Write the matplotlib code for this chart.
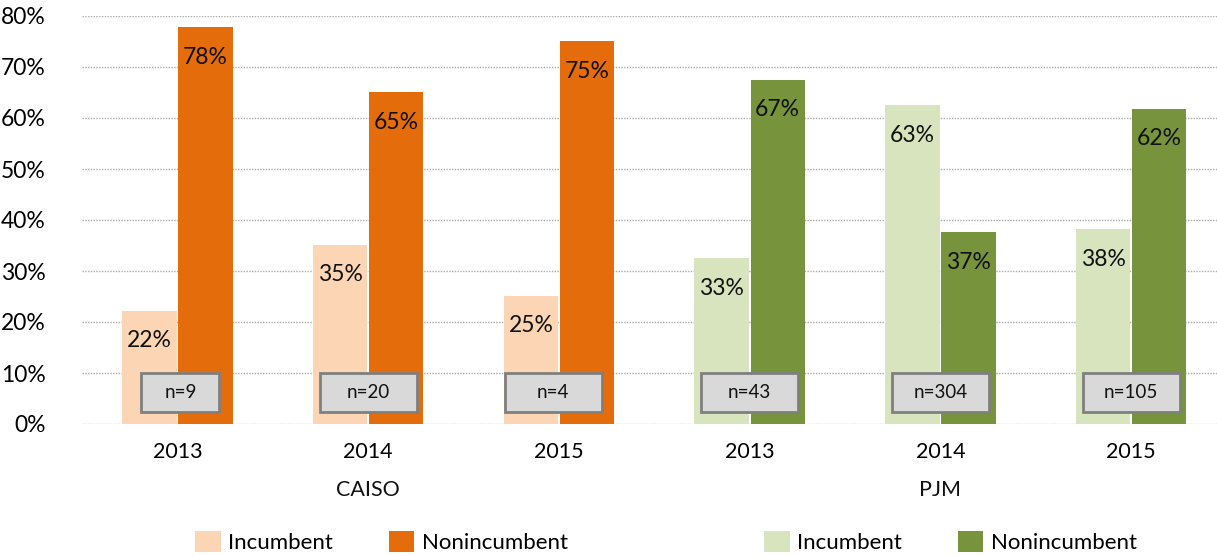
import matplotlib
matplotlib.use("Agg")
import matplotlib.pyplot as plt
from matplotlib.patches import Rectangle
import numpy as np

years = ["2013", "2014", "2015", "2013", "2014", "2015"]
markets = ["CAISO", "PJM"]
incumbent = [22.2, 35.1, 25.1, 32.5, 62.5, 38.2]
nonincumbent = [77.8, 65.0, 75.0, 67.5, 37.6, 61.8]
inc_labels = ["22%", "35%", "25%", "33%", "63%", "38%"]
non_labels = ["78%", "65%", "75%", "67%", "37%", "62%"]
n_labels = ["n=9", "n=20", "n=4", "n=43", "n=304", "n=105"]
yticks = [0, 10, 20, 30, 40, 50, 60, 70, 80]

inc_colors = ["#FCD5B5"] * 3 + ["#D7E4BD"] * 3
non_colors = ["#E46C0A"] * 3 + ["#77933C"] * 3

plt.rcParams['font.family'] = ['Lato', 'DejaVu Sans']

W, H = 1217, 556
fig = plt.figure(figsize=(W / 100, H / 100), dpi=100)
ax = fig.add_axes([82 / W, (H - 424) / H, (W - 82) / W, (424 - 16) / H])

x = np.arange(len(years))
bw = 0.285
off = 0.147
b1 = ax.bar(x - off, incumbent, bw, color=inc_colors, zorder=2)
b2 = ax.bar(x + off, nonincumbent, bw, color=non_colors, zorder=2)

ax.set_xlim(-0.5, 5.45)
ax.set_ylim(0, 80)
ax.set_yticks(yticks)
ax.set_yticklabels([f"{v}%" for v in yticks], fontsize=16.5)
ax.set_xticks(x)
ax.set_xticklabels(years, fontsize=15.5)
ax.tick_params(length=0)
ax.tick_params(axis='y', pad=26)
ax.tick_params(axis='x', pad=13)
for s in ax.spines.values():
    s.set_visible(False)
ax.yaxis.grid(True, color="#ABABAB", linestyle=(0, (1.0, 1.0)), linewidth=1.0, zorder=0)
ax.set_axisbelow(True)

# value labels: ~30 px below bar top
dy = 30 * 80 / 408
for i in range(len(years)):
    ax.text(x[i] - off, incumbent[i] - dy, inc_labels[i], ha='center', va='center',
            fontsize=16.5, color='#111111', zorder=4)
    ax.text(x[i] + off, nonincumbent[i] - dy, non_labels[i], ha='center', va='center',
            fontsize=16.5, color='#111111', zorder=4)

# n boxes
unit_px = 190.8
for i, lab in enumerate(n_labels):
    wpx = 78 if i == 0 else 97
    w = wpx / unit_px
    y0 = (424 - 412) * 80 / 408
    h = 39 * 80 / 408
    cx = x[i] + (3 / unit_px if i == 0 else (-0.03 if i == 2 else 0))
    ax.add_patch(Rectangle((cx - w / 2, y0), w, h, facecolor="#D9D9D9",
                           edgecolor="#7F7F7F", linewidth=2, zorder=5))
    ax.text(cx, y0 + h / 2, lab, ha='center', va='center', fontsize=13.5,
            color='#111111', zorder=6)

# market labels
for j, m in enumerate(markets):
    ax.text(1 + 3 * j, -13.0, m, ha='center', va='center', fontsize=15.5,
            color='#111111', transform=ax.transData)

# legends
leg_kw = dict(ncol=2, frameon=False, fontsize=16, handlelength=1.15,
              handleheight=1.05, handletextpad=0.35, columnspacing=2.5,
              borderaxespad=0, borderpad=0)
l1 = fig.legend([b1[0], b2[0]], ["Incumbent", "Nonincumbent"],
                loc='center left', bbox_to_anchor=(195 / W, (H - 542) / H), **leg_kw)
l2 = fig.legend([b1[3], b2[3]], ["Incumbent", "Nonincumbent"],
                loc='center left', bbox_to_anchor=(764 / W, (H - 542) / H), **leg_kw)

fig.savefig("out.png", dpi=100)
